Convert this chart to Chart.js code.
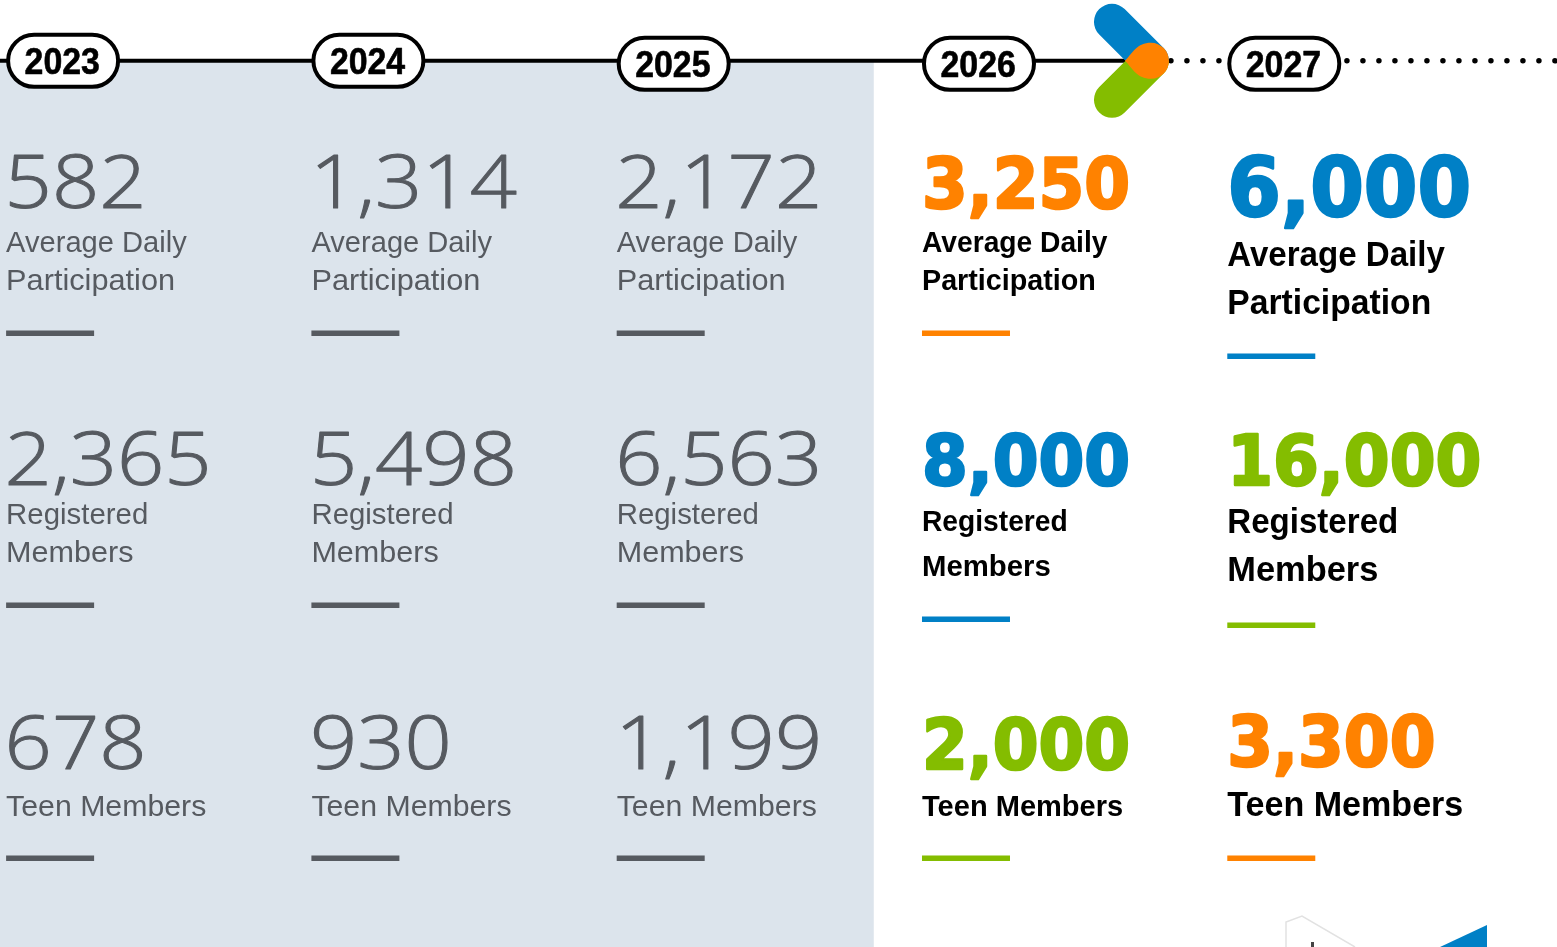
<!DOCTYPE html>
<html>
<head>
<meta charset="utf-8">
<style>
  html, body { margin: 0; padding: 0; background: #fff; }
  canvas { display: block; }
</style>
</head>
<body>
<canvas id="canvas" width="1557" height="947"></canvas>
<script src="https://cdn.jsdelivr.net/npm/chart.js@4"></script>
<script>
const years = [2023, 2024, 2025, 2026, 2027];
const participation = [582, 1314, 2172, 3250, 6000];
const registered = [2365, 5498, 6563, 8000, 16000];
const teens = [678, 930, 1199, 2000, 3300];
const metricLabels = [
  ["Average Daily", "Participation"],
  ["Registered", "Members"],
  ["Teen Members"]
];

const BLUE = "#0080c6", GREEN = "#84bd00", ORANGE = "#ff8200";
const GREY = "#565a60", PANEL = "#dce4ec";

// goal colours, [2026, 2027] per metric
const goalColors = [[ORANGE, BLUE], [BLUE, GREEN], [GREEN, ORANGE]];

const HEAVY = "700 70px 'DejaVu Sans'";
const HEAVY_BIG = "700 82px 'DejaVu Sans'";

// style per group of columns: 2023-25, 2026, 2027
const groups = {
  past: {
    num: "300 74px 'Open Sans'", numScale: 1.12, numStroke: 1,
    label: "400 30px 'Liberation Sans'", labelScale: 0.97,
    fit: [[1, 1.055], [1.01, 1.05], [1.04]]
  },
  y2026: {
    num: HEAVY, numScale: 0.94, numStroke: 2.5,
    label: "700 30px 'Liberation Sans'", labelScale: 0.94,
    fit: [[1, 1.018], [1, 1.04], [1.03]]
  },
  y2027: {
    num: HEAVY, numScale: 0.94, numStroke: 2.5,
    label: "700 35px 'Liberation Sans'", labelScale: 0.945,
    fit: [[1, 1.018], [1, 1.04], [1.03]]
  }
};
// baseline offsets from the row position: number, label lines, rule
const offsets = {
  past: [
    { num: 0, lines: [44, 82], rule: 125 },
    { num: -3.5, lines: [35.5, 73.5], rule: 116.5 },
    { num: 0, lines: [47], rule: 89 }
  ],
  y2026: [
    { num: 0, lines: [44, 82], rule: 125 },
    { num: -3.5, lines: [42.5, 87.5], rule: 130.5 },
    { num: 0, lines: [47], rule: 89 }
  ],
  y2027: [
    { num: 8, font: HEAVY_BIG, lines: [58, 106], rule: 148 },
    { num: -3.5, lines: [44.5, 92.5], rule: 136.5 },
    { num: -3, lines: [47], rule: 89 }
  ]
};

function groupOf(year) {
  return year < 2026 ? "past" : year === 2026 ? "y2026" : "y2027";
}

function stretchedText(c, text, x, y, font, scale, color, stroke) {
  c.save();
  c.translate(x, y);
  c.scale(scale, 1);
  c.font = font;
  c.fillStyle = color;
  c.textAlign = "left";
  c.textBaseline = "alphabetic";
  c.fillText(text, 0, 0);
  if (stroke) {
    c.strokeStyle = color;
    c.lineWidth = stroke;
    c.lineJoin = "round";
    c.strokeText(text, 0, 0);
  }
  c.restore();
}

function capsule(c, x1, y1, x2, y2, color, clipTop) {
  c.save();
  c.beginPath();
  if (clipTop) c.rect(x1 - 40, y2 - 60, 120, 60);
  else c.rect(x1 - 40, y2, 120, 60);
  c.clip();
  c.strokeStyle = color;
  c.lineWidth = 36;
  c.lineCap = "round";
  c.beginPath();
  c.moveTo(x1, y1);
  c.lineTo(x2, y2);
  c.stroke();
  c.restore();
}

const infographic = {
  id: "infographic",
  beforeDatasetsDraw(chart) {
    const c = chart.ctx, x = chart.scales.x, y = chart.scales.y;
    // shaded panel behind the years already reported
    const top = y.getPixelForValue(TIMELINE_ROW);
    c.fillStyle = PANEL;
    c.fillRect(0, top, x.getPixelForValue(PANEL_END), chart.height - top);
    // piece of the building drawing cut off at the bottom
    c.strokeStyle = "#e2e2e2";
    c.lineWidth = 1.5;
    c.beginPath();
    c.moveTo(1286, 947);
    c.lineTo(1286, 922);
    c.lineTo(1302, 916);
    c.lineTo(1355, 947);
    c.stroke();
    c.fillStyle = "#444";
    c.fillRect(1311, 942, 3, 5);
    c.fillStyle = BLUE;
    c.beginPath();
    c.moveTo(1440, 947);
    c.lineTo(1487, 925);
    c.lineTo(1487, 947);
    c.fill();
  },
  afterDatasetsDraw(chart) {
    const c = chart.ctx;
    const timeline = chart.getDatasetMeta(0).data;
    const ty = timeline[0].y;

    // arrow mark where the line changes to dots
    const tipX = chart.scales.x.getPixelForValue(ARROW_YEAR);
    capsule(c, tipX - 39, ty - 39, tipX, ty, BLUE, true);
    capsule(c, tipX - 39, ty + 39, tipX, ty, GREEN, false);
    c.fillStyle = ORANGE;
    c.beginPath();
    c.moveTo(tipX - 26, ty);
    c.bezierCurveTo(tipX - 18, ty - 8, tipX - 14, ty - 18, tipX, ty - 18);
    c.arc(tipX, ty, 18, -Math.PI / 2, Math.PI / 2);
    c.bezierCurveTo(tipX - 14, ty + 18, tipX - 18, ty + 8, tipX - 26, ty);
    c.fill();

    // year pills
    years.forEach((year, i) => {
      const px = chart.getDatasetMeta(2).data[i].x + 57;
      const py = ty + (i < 2 ? 0 : 3);
      c.beginPath();
      c.roundRect(px - 55, py - 26, 110, 52, 26);
      c.fillStyle = "#fff";
      c.fill();
      c.lineWidth = 4;
      c.strokeStyle = "#000";
      c.stroke();
      stretchedText(c, String(year), px - 38.5, py + 13.5, "700 36px 'Liberation Sans'", 0.94, "#000", 0.6);
    });

    // metric columns
    for (let d = 2; d < 5; d++) {
      const row = d - 2;
      const ds = chart.data.datasets[d];
      chart.getDatasetMeta(d).data.forEach((pt, i) => {
        const key = groupOf(years[i]);
        const st = groups[key], off = offsets[key][row];
        const color = i < 3 ? GREY : goalColors[row][i - 3];
        const textColor = i < 3 ? GREY : "#000";
        const value = ds.data[i].value.toLocaleString("en-US");
        stretchedText(c, value, pt.x - (i < 3 ? 1.5 : 0), pt.y + off.num, off.font || st.num, st.numScale, color, st.numStroke);
        metricLabels[row].forEach((line, l) => {
          stretchedText(c, line, pt.x, pt.y + off.lines[l], st.label, st.labelScale * st.fit[row][l], textColor, 0);
        });
        c.fillStyle = color;
        c.fillRect(pt.x, pt.y + off.rule - 2.5, 88, 5.5);
      });
    }
  }
};

const TIMELINE_ROW = -0.5246;
const ARROW_YEAR = 2026.75;
const PANEL_END = 2025.842;
const DOTS_START = 2026.763;
const SCALE_END = 2028.08;

function rowData(values, row) {
  return values.map((v, i) => ({ x: years[i], y: row, value: v }));
}

new Chart(document.getElementById("canvas").getContext("2d"), {
  type: "scatter",
  data: {
    datasets: [
      {
        label: "timeline",
        showLine: true,
        pointRadius: 0,
        borderColor: "#000",
        borderWidth: 4,
        data: [{ x: 2022.97, y: TIMELINE_ROW }, { x: ARROW_YEAR, y: TIMELINE_ROW }]
      },
      {
        label: "timeline ahead",
        showLine: true,
        pointRadius: 0,
        borderColor: "#000",
        borderWidth: 5.5,
        borderCapStyle: "round",
        borderDash: [0, 16],
        data: [{ x: DOTS_START, y: TIMELINE_ROW }, { x: SCALE_END, y: TIMELINE_ROW }]
      },
      { label: "Average Daily Participation", pointRadius: 0, data: rowData(participation, 0) },
      { label: "Registered Members", pointRadius: 0, data: rowData(registered, 1) },
      { label: "Teen Members", pointRadius: 0, data: rowData(teens, 2) }
    ]
  },
  options: {
    responsive: false,
    animation: false,
    events: [],
    layout: { padding: 0 },
    plugins: { legend: { display: false }, tooltip: { enabled: false } },
    scales: {
      x: { type: "linear", display: false, min: 2022.98, max: SCALE_END },
      y: { type: "linear", display: false, min: -0.7415, max: 2.6346, reverse: true }
    }
  },
  plugins: [infographic]
});
</script>
</body>
</html>
